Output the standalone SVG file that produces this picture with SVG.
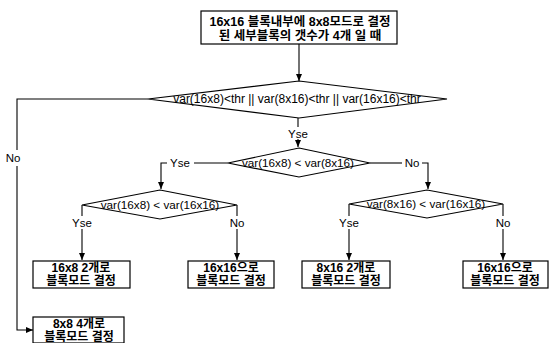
<svg xmlns="http://www.w3.org/2000/svg" width="557" height="343" viewBox="0 0 557 343">
<defs>
<marker id="ah" markerWidth="8" markerHeight="8" refX="7" refY="4" orient="auto" markerUnits="userSpaceOnUse">
<path d="M0,1 L7,4 L0,7 Z" fill="#000"/>
</marker>
<style>
.box{fill:#fff;stroke:#000;stroke-width:1.2}
.ln{fill:none;stroke:#000;stroke-width:1.1}
.t{font-family:"Liberation Sans","Noto Sans CJK KR",Arial,sans-serif;font-size:12px;fill:#000;text-anchor:middle}
.b{font-weight:bold}
.top{font-size:12.5px}
.d{font-size:11.7px}
.lbl{font-family:"Liberation Sans","Noto Sans CJK KR",Arial,sans-serif;font-size:11.5px;fill:#000;text-anchor:middle}
</style>
</defs>
<rect width="557" height="343" fill="#fff"/>
<g id="connectors">
<path class="ln" d="M299,44 V81" marker-end="url(#ah)"/>
<path class="ln" d="M148,99 H17 V150"/>
<path class="ln" d="M17,166 V330 H33" marker-end="url(#ah)"/>
<path class="ln" d="M298,118 V127"/>
<path class="ln" d="M298,139 V147" marker-end="url(#ah)"/>
<path class="ln" d="M228,163 H194"/>
<path class="ln" d="M167,163 H161 V189" marker-end="url(#ah)"/>
<path class="ln" d="M370,163 H402"/>
<path class="ln" d="M422,163 H428 V189" marker-end="url(#ah)"/>
<path class="ln" d="M82,205 V216"/>
<path class="ln" d="M82,229 V260" marker-end="url(#ah)"/>
<path class="ln" d="M237,205 V216"/>
<path class="ln" d="M237,229 V260" marker-end="url(#ah)"/>
<path class="ln" d="M349,204 V216"/>
<path class="ln" d="M349,229 V260" marker-end="url(#ah)"/>
<path class="ln" d="M503,204 V216"/>
<path class="ln" d="M503,229 V260" marker-end="url(#ah)"/>
</g>
<g id="labels">
<text class="lbl" x="13" y="162">No</text>
<text class="lbl" x="298" y="138">Yse</text>
<text class="lbl" x="180" y="167">Yse</text>
<text class="lbl" x="412" y="167">No</text>
<text class="lbl" x="82" y="227">Yse</text>
<text class="lbl" x="237" y="227">No</text>
<text class="lbl" x="349" y="227">Yse</text>
<text class="lbl" x="503" y="227">No</text>
</g>
<g id="start">
<rect class="box" x="201" y="11" width="196" height="33"/>
<text class="t b top" x="300" y="26">16x16 블록내부에 8x8모드로 결정</text>
<text class="t b top" x="300" y="40">된 세부블록의 갯수가 4개 일 때</text>
</g>
<g id="d1">
<polygon class="box" points="299,81 447,99 299,118 148,99"/>
<text class="t" x="297" y="103">var(16x8)&lt;thr || var(8x16)&lt;thr || var(16x16)&lt;thr</text>
</g>
<g id="d2">
<polygon class="box" points="299,148 370,163 299,177 228,163"/>
<text class="t d" x="298" y="167">var(16x8) &lt; var(8x16)</text>
</g>
<g id="d3">
<polygon class="box" points="160,190 237,205 160,219 82,205"/>
<text class="t d" x="160" y="209">var(16x8) &lt; var(16x16)</text>
</g>
<g id="d4">
<polygon class="box" points="427,190 503,204 427,218 349,204"/>
<text class="t d" x="426" y="208">var(8x16) &lt; var(16x16)</text>
</g>
<g id="b1">
<rect class="box" x="33" y="261" width="97" height="27"/>
<text class="t b" x="81" y="272">16x8 2개로</text>
<text class="t b" x="81" y="285">블록모드 결정</text>
</g>
<g id="b2">
<rect class="box" x="188" y="261" width="86" height="27"/>
<text class="t b" x="231" y="272">16x16으로</text>
<text class="t b" x="231" y="285">블록모드 결정</text>
</g>
<g id="b3">
<rect class="box" x="302" y="261" width="88" height="27"/>
<text class="t b" x="346" y="272">8x16 2개로</text>
<text class="t b" x="346" y="285">블록모드 결정</text>
</g>
<g id="b4">
<rect class="box" x="463" y="261" width="85" height="27"/>
<text class="t b" x="505" y="272">16x16으로</text>
<text class="t b" x="505" y="285">블록모드 결정</text>
</g>
<g id="b5">
<rect class="box" x="33" y="317" width="91" height="26"/>
<text class="t b" x="79" y="328">8x8 4개로</text>
<text class="t b" x="79" y="341">블록모드 결정</text>
</g>
</svg>
